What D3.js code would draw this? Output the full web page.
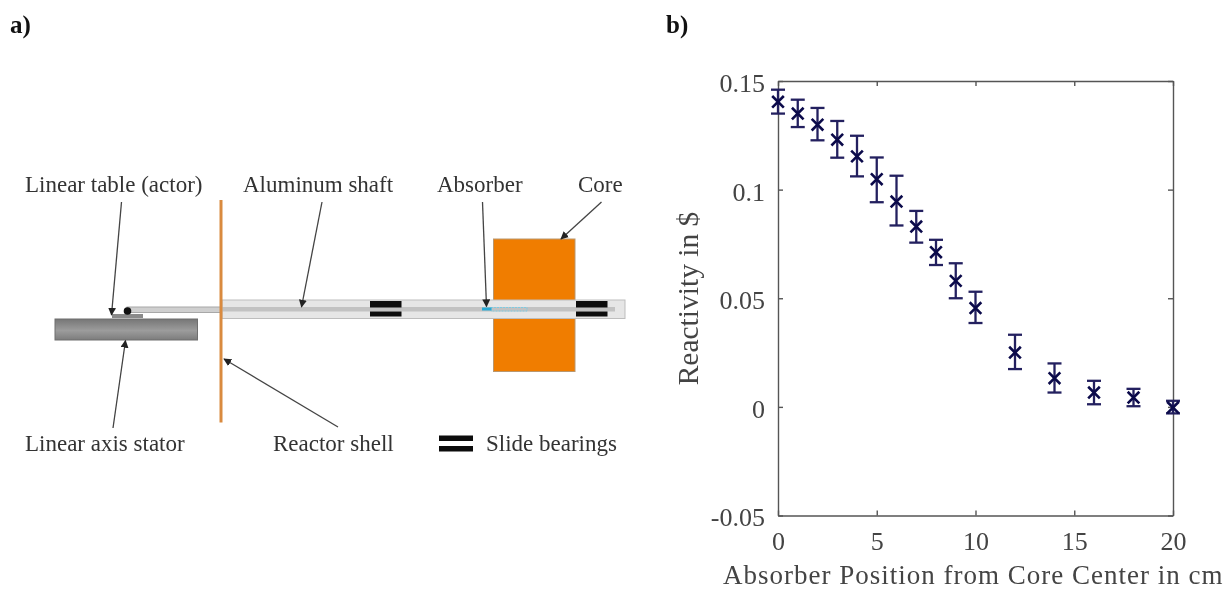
<!DOCTYPE html>
<head>
  <meta charset="utf-8">
  <script src="https://d3js.org/d3.v7.min.js"></script>
  <style>
    body { margin:0; background:#fff; }
    svg { display:block; filter:blur(0.5px); }
    text { font-family:"Liberation Serif",serif; fill:#333; }
    .axis path, .axis line { stroke:#555; stroke-width:1.4; }
    .axis text { font-family:"Liberation Serif",serif; fill:#444; }
  </style>
</head>

<body>
  <script>
    // panel b values
    var positions = [0, 1, 2, 3, 4, 5, 6, 7, 8, 9, 10, 12, 14, 16, 18, 20];
    var reactivity = [0.1404, 0.135, 0.1299, 0.123, 0.1153, 0.1048, 0.0945, 0.083, 0.0712, 0.058, 0.0455, 0.025, 0.0132, 0.0066, 0.0043, -0.0003];
    var upper = [0.146, 0.1414, 0.1376, 0.1316, 0.1248, 0.1148, 0.1064, 0.0902, 0.0769, 0.0661, 0.053, 0.0332, 0.02, 0.012, 0.0083, 0.0028];
    var lower = [0.135, 0.1288, 0.1227, 0.1147, 0.1061, 0.0942, 0.0835, 0.0756, 0.0653, 0.05, 0.0386, 0.0174, 0.0066, 0.0012, 0.0003, -0.003];
    var xTicks = [0, 5, 10, 15, 20];
    var yTicks = [-0.05, 0, 0.05, 0.1, 0.15];
    var yTickLabels = ["-0.05", "0", "0.05", "0.1", "0.15"];

    // panel a labels
    var topLabels = ["Linear table (actor)", "Aluminum shaft", "Absorber", "Core"];
    var bottomLabels = ["Linear axis stator", "Reactor shell", "Slide bearings"];

    var width = 1228,
    height = 590;

    var svg = d3.select("body").append("svg")
    .attr("width", width)
    .attr("height", height);

    var defs = svg.append("defs");
    var grad = defs.append("linearGradient").attr("id", "stator")
    .attr("x1", 0).attr("y1", 0).attr("x2", 0).attr("y2", 1);
    grad.append("stop").attr("offset", "0%").attr("stop-color", "#767676");
    grad.append("stop").attr("offset", "55%").attr("stop-color", "#9c9c9c");
    grad.append("stop").attr("offset", "100%").attr("stop-color", "#7c7c7c");
    defs.append("marker").attr("id", "head")
    .attr("viewBox", "0 0 10 10").attr("refX", 9).attr("refY", 5)
    .attr("markerWidth", 8).attr("markerHeight", 8)
    .attr("markerUnits", "userSpaceOnUse")
    .attr("orient", "auto")
    .append("path").attr("d", "M0,0L10,5L0,10Z").attr("fill", "#222");

    svg.append("text").text("a)").attr("x", 10).attr("y", 33)
    .style("font-size", "25px").style("font-weight", "bold").style("fill", "#111");
    svg.append("text").text("b)").attr("x", 666).attr("y", 33)
    .style("font-size", "25px").style("font-weight", "bold").style("fill", "#111");

    // ---- panel a: the schematic ----
    var a = svg.append("g");

    function box(x0, y0, x1, y1, fill, stroke) {
      return a.append("rect")
      .attr("x", x0).attr("y", y0)
      .attr("width", x1 - x0).attr("height", y1 - y0)
      .attr("fill", fill)
      .attr("stroke", stroke || "none");
    }

    function arrow(x0, y0, x1, y1) {
      a.append("line")
      .attr("x1", x0).attr("y1", y0).attr("x2", x1).attr("y2", y1)
      .attr("stroke", "#444").attr("stroke-width", 1.3)
      .attr("marker-end", "url(#head)");
    }

    box(493.5, 239, 575, 371.5, "#f07d00", "#b9976f");
    box(222, 300, 625, 318.5, "#e6e6e6", "#bdbdbd");
    box(222, 307, 615, 311.5, "#c2c2c2");
    box(127, 307, 221, 312.5, "#cfcfcf", "#a8a8a8");
    box(370, 301, 401.5, 307.5, "#0c0c0c");
    box(370, 311.5, 401.5, 316.5, "#0c0c0c");
    box(576, 301, 607.5, 307.5, "#0c0c0c");
    box(576, 311.5, 607.5, 316.5, "#0c0c0c");
    box(491, 307.5, 527, 311, "none", "#7ecbe2").attr("stroke-dasharray", "2,1");
    box(482, 307.5, 491.5, 310.5, "#2aa9d4");

    box(55, 319, 197.5, 340, "url(#stator)", "#6f6f6f");
    box(112, 314, 143, 318, "#8a8a8a");
    a.append("circle").attr("cx", 127.5).attr("cy", 311).attr("r", 3.8).attr("fill", "#111");
    a.append("line").attr("x1", 221).attr("y1", 200).attr("x2", 221).attr("y2", 422.5)
    .attr("stroke", "#d98a3f").attr("stroke-width", 3);

    arrow(121.5, 202, 111.5, 315);
    arrow(322, 202, 301.5, 307);
    arrow(482.5, 202, 486.5, 306.5);
    arrow(601.5, 202, 561, 239);
    arrow(113, 428, 125.5, 340.5);
    arrow(338, 427, 224, 359);

    // legend bearing icon
    box(439, 435.5, 473, 441, "#0c0c0c");
    box(439, 446, 473, 451.5, "#0c0c0c");

    a.selectAll("text.top")
    .data(topLabels)
    .enter()
    .append("text")
    .attr("class", "top")
    .attr("x", function(d, i) { return [25, 243, 437, 578][i]; })
    .attr("y", 192)
    .style("font-size", "23px")
    .text(function(d) { return d; });

    a.selectAll("text.bottom")
    .data(bottomLabels)
    .enter()
    .append("text")
    .attr("class", "bottom")
    .attr("x", function(d, i) { return [25, 273, 486][i]; })
    .attr("y", 451)
    .style("font-size", "23px")
    .text(function(d) { return d; });

    // ---- panel b: the error bar plot ----
    var left = 778, right = 1173, top_ = 81, bottom = 515.5;

    var x = d3.scaleLinear().domain([0, 20]).range([left, right]);
    var y = d3.scaleLinear().domain([-0.05, 0.15]).range([bottom, top_]);

    var g = svg.append("g");

    function styleAxis(sel) {
      sel.attr("class", "axis");
      sel.select(".domain").attr("fill", "none");
    }

    g.append("g").attr("transform", "translate(0," + bottom + ")")
    .call(d3.axisBottom(x).tickValues(xTicks).tickSize(-5).tickSizeOuter(0).tickPadding(16))
    .call(styleAxis)
    .selectAll("text").style("font-size", "26px");

    g.append("g").attr("transform", "translate(0," + top_ + ")")
    .call(d3.axisTop(x).tickValues(xTicks).tickSize(-5).tickSizeOuter(0).tickFormat(""))
    .call(styleAxis);

    g.append("g").attr("transform", "translate(" + left + ",0)")
    .call(d3.axisLeft(y).tickValues(yTicks).tickSize(-5).tickSizeOuter(0).tickPadding(13)
      .tickFormat(function(d, i) { return yTickLabels[i]; }))
    .call(styleAxis)
    .selectAll("text").style("font-size", "26px").attr("dy", "0.4em");

    g.append("g").attr("transform", "translate(" + right + ",0)")
    .call(d3.axisRight(y).tickValues(yTicks).tickSize(-5).tickSizeOuter(0).tickFormat(""))
    .call(styleAxis);

    var navy = "#23205f";
    var capHalf = 7;

    var pts = g.selectAll("g.pt")
    .data(positions)
    .enter()
    .append("g")
    .attr("class", "pt");

    pts.append("line")
    .attr("x1", function(d) { return x(d); })
    .attr("x2", function(d) { return x(d); })
    .attr("y1", function(d, i) { return y(upper[i]); })
    .attr("y2", function(d, i) { return y(lower[i]); })
    .attr("stroke", navy).attr("stroke-width", 2.3);

    pts.append("line")
    .attr("x1", function(d) { return x(d) - capHalf; })
    .attr("x2", function(d) { return x(d) + capHalf; })
    .attr("y1", function(d, i) { return y(upper[i]); })
    .attr("y2", function(d, i) { return y(upper[i]); })
    .attr("stroke", navy).attr("stroke-width", 2.3);

    pts.append("line")
    .attr("x1", function(d) { return x(d) - capHalf; })
    .attr("x2", function(d) { return x(d) + capHalf; })
    .attr("y1", function(d, i) { return y(lower[i]); })
    .attr("y2", function(d, i) { return y(lower[i]); })
    .attr("stroke", navy).attr("stroke-width", 2.3);

    pts.append("path")
    .attr("d", d3.symbol().type(d3.symbolX).size(90))
    .attr("transform", function(d, i) { return "translate(" + x(d) + "," + y(reactivity[i]) + ")"; })
    .attr("fill", "none")
    .attr("stroke", "#0b0a4a").attr("stroke-width", 2.6);

    svg.append("text")
    .text("Absorber Position from Core Center in cm")
    .attr("x", 723).attr("y", 584)
    .style("font-size", "27px").style("letter-spacing", "1px").style("fill", "#444");

    svg.append("text")
    .text("Reactivity in $")
    .attr("transform", "translate(698,298.5) rotate(-90)")
    .attr("text-anchor", "middle")
    .style("font-size", "29.5px").style("fill", "#444");
  </script>
</body>
